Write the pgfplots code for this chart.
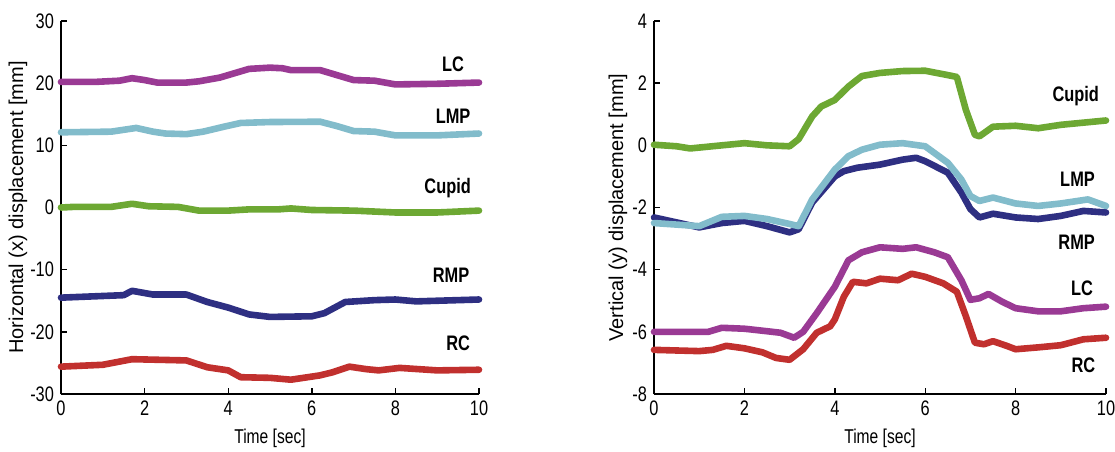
\documentclass[border=0pt]{standalone}
\usepackage{fontspec}
\setmainfont{Liberation Sans}
\newfontfamily\condfont[FakeStretch=0.78]{Liberation Sans}
\usepackage{pgfplots}
\pgfplotsset{compat=1.18}
\definecolor{cLC}{HTML}{9A3A94}
\definecolor{cLMP}{HTML}{82BCCB}
\definecolor{cCup}{HTML}{6DA833}
\definecolor{cRMP}{HTML}{2E2F82}
\definecolor{cRC}{HTML}{C1302E}
\tikzset{lab/.style={font=\fontsize{10.5}{12}\selectfont\bfseries\condfont, anchor=center}}
\pgfplotsset{
  mystyle/.style={
    scale only axis,
    axis lines=left,
    axis line style={-, line width=0.8pt},
    tick style={line width=0.7pt, black},
    major tick length=3pt,
    tick align=inside,
    xmin=0, xmax=10,
    xtick={0,2,...,10},
    ticklabel style={font=\condfont\fontsize{10.5}{12}\selectfont},
    /pgf/number format/assume math mode=true,
    xlabel={\condfont\fontsize{10}{12}\selectfont Time [sec]},
    x label style={at={(axis description cs:0.5,-0.118)},anchor=center},
    clip=false,
  },
  ser/.style={line width=3.3pt, line join=round, line cap=round, mark=none},
}
\begin{document}
\begin{tikzpicture}
\path[use as bounding box] (0,0) rectangle (557.5pt,225.5pt);
% Left panel
\begin{axis}[mystyle,
  at={(30.5pt,28.5pt)}, anchor=south west,
  width=209pt, height=186.5pt,
  ymin=-30, ymax=30, ytick={-30,-20,...,30},
  ylabel={\fontsize{10}{12}\selectfont Horizontal (x) displacement [mm]},
  y label style={at={(axis description cs:-0.103,0.5)},anchor=center},
]
\addplot[ser, cLC] coordinates {(0,20.2) (0.8,20.2) (1.4,20.4) (1.7,20.8) (2.0,20.5) (2.3,20.1) (3.0,20.1) (3.3,20.3) (3.8,20.9) (4.2,21.7) (4.5,22.3) (5.0,22.5) (5.3,22.4) (5.5,22.1) (6.2,22.1) (6.6,21.3) (7.0,20.5) (7.5,20.4) (8.0,19.8) (9.0,19.9) (10.0,20.1)};
\addplot[ser, cLMP] coordinates {(0,12.1) (1.2,12.2) (1.8,12.8) (2.2,12.2) (2.5,11.9) (3.0,11.8) (3.4,12.2) (3.9,13.0) (4.3,13.6) (5.0,13.75) (6.2,13.8) (6.6,13.1) (7.0,12.3) (7.5,12.2) (8.0,11.6) (9.0,11.6) (10.0,11.9)};
\addplot[ser, cCup] coordinates {(0,0.0) (0.3,0.1) (1.2,0.1) (1.7,0.6) (2.1,0.2) (2.8,0.1) (3.3,-0.5) (4.0,-0.5) (4.5,-0.3) (5.2,-0.3) (5.5,-0.15) (6.0,-0.4) (7.0,-0.5) (8.0,-0.8) (9.0,-0.8) (10.0,-0.5)};
\addplot[ser, cRMP] coordinates {(0,-14.5) (1.5,-14.1) (1.7,-13.4) (2.2,-14.0) (3.0,-14.0) (3.5,-15.2) (4.0,-16.1) (4.5,-17.2) (5.0,-17.6) (6.0,-17.5) (6.3,-17.0) (6.8,-15.2) (7.5,-14.9) (8.0,-14.8) (8.5,-15.1) (10.0,-14.8)};
\addplot[ser, cRC] coordinates {(0,-25.6) (1.0,-25.3) (1.7,-24.4) (3.0,-24.6) (3.5,-25.7) (4.0,-26.2) (4.3,-27.3) (5.0,-27.4) (5.5,-27.7) (6.2,-27.0) (6.5,-26.5) (6.9,-25.6) (7.3,-26.0) (7.6,-26.2) (8.1,-25.8) (9.0,-26.2) (10.0,-26.1)};
\node[lab] at (axis cs:9.38,23.0) {LC};
\node[lab] at (axis cs:9.38,14.7) {LMP};
\node[lab] at (axis cs:9.25,3.2) {Cupid};
\node[lab] at (axis cs:9.33,-10.9) {RMP};
\node[lab] at (axis cs:9.5,-21.8) {RC};
\end{axis}
% Right panel
\begin{axis}[mystyle,
  at={(327pt,28.5pt)}, anchor=south west,
  width=226pt, height=186.5pt,
  ymin=-8, ymax=4, ytick={-8,-6,...,4},
  ylabel={\fontsize{10}{12}\selectfont Vertical (y) displacement [mm]},
  y label style={at={(axis description cs:-0.08,0.5)},anchor=center},
]
\addplot[ser, cCup] coordinates {(0,0.02) (0.5,-0.03) (0.8,-0.1) (1.5,0.0) (2.0,0.07) (2.5,0.0) (3.0,-0.03) (3.2,0.2) (3.5,0.93) (3.7,1.25) (4.0,1.46) (4.3,1.89) (4.6,2.23) (5.0,2.33) (5.5,2.39) (6.0,2.4) (6.5,2.26) (6.7,2.2) (6.9,1.14) (7.1,0.34) (7.2,0.29) (7.5,0.6) (8.0,0.63) (8.5,0.55) (9.0,0.66) (9.5,0.73) (10.0,0.8)};
\addplot[ser, cRMP] coordinates {(0,-2.32) (0.5,-2.48) (1.0,-2.64) (1.5,-2.5) (2.0,-2.43) (2.5,-2.6) (3.0,-2.8) (3.2,-2.7) (3.5,-1.84) (4.0,-1.0) (4.2,-0.83) (4.5,-0.72) (5.0,-0.62) (5.5,-0.46) (5.8,-0.4) (6.0,-0.51) (6.5,-0.88) (6.8,-1.52) (7.0,-2.05) (7.2,-2.32) (7.5,-2.2) (8.0,-2.32) (8.5,-2.37) (9.0,-2.27) (9.5,-2.11) (10.0,-2.16)};
\addplot[ser, cLMP] coordinates {(0,-2.5) (1.0,-2.6) (1.5,-2.3) (2.0,-2.27) (2.5,-2.37) (3.0,-2.53) (3.2,-2.6) (3.5,-1.74) (4.0,-0.78) (4.3,-0.35) (4.6,-0.14) (5.0,0.02) (5.5,0.07) (6.0,-0.03) (6.5,-0.56) (6.8,-1.1) (7.0,-1.63) (7.2,-1.79) (7.5,-1.68) (8.0,-1.87) (8.5,-1.95) (9.0,-1.87) (9.6,-1.74) (10.0,-1.95)};
\addplot[ser, cLC] coordinates {(0,-6.0) (1.2,-6.0) (1.5,-5.87) (2.0,-5.9) (2.5,-5.98) (2.8,-6.03) (3.1,-6.19) (3.3,-6.0) (3.6,-5.4) (4.0,-4.55) (4.3,-3.7) (4.6,-3.44) (5.0,-3.28) (5.5,-3.33) (5.8,-3.28) (6.2,-3.44) (6.5,-3.6) (6.8,-4.34) (7.0,-4.97) (7.2,-4.92) (7.4,-4.78) (7.7,-5.03) (8.0,-5.24) (8.5,-5.34) (9.0,-5.34) (9.5,-5.24) (10.0,-5.19)};
\addplot[ser, cRC] coordinates {(0,-6.58) (1.0,-6.62) (1.3,-6.58) (1.6,-6.45) (2.0,-6.53) (2.4,-6.66) (2.7,-6.84) (3.0,-6.9) (3.3,-6.56) (3.6,-6.03) (3.9,-5.82) (4.0,-5.6) (4.2,-4.87) (4.4,-4.39) (4.7,-4.44) (5.0,-4.29) (5.4,-4.34) (5.7,-4.13) (6.0,-4.23) (6.4,-4.44) (6.7,-4.71) (6.9,-5.5) (7.1,-6.35) (7.3,-6.4) (7.5,-6.3) (7.8,-6.45) (8.0,-6.56) (8.5,-6.5) (9.0,-6.43) (9.5,-6.24) (10.0,-6.19)};
\node[lab] at (axis cs:9.33,1.57) {Cupid};
\node[lab] at (axis cs:9.37,-1.1) {LMP};
\node[lab] at (axis cs:9.35,-3.12) {RMP};
\node[lab] at (axis cs:9.47,-4.6) {LC};
\node[lab] at (axis cs:9.5,-7.09) {RC};
\end{axis}
\end{tikzpicture}
\end{document}
